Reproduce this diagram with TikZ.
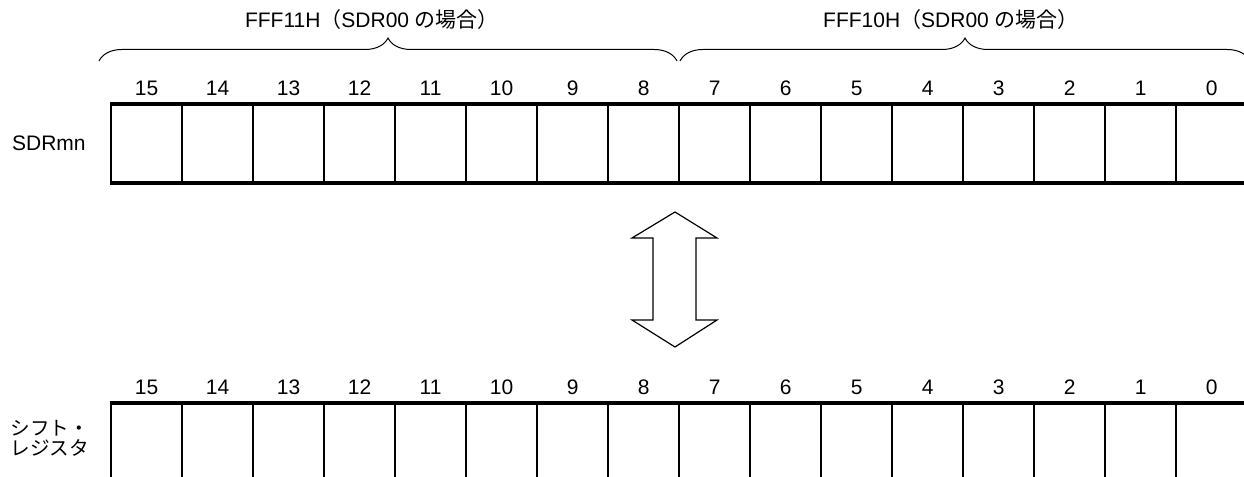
\documentclass[tikz,border=0pt]{standalone}
\usepackage{fontspec}
\setmainfont{Liberation Sans}
\newfontfamily\jpfont{Noto Sans CJK JP}
\usetikzlibrary{
  decorations.pathreplacing,
  positioning
}
\tikzset{
  bitcell/.style={draw, line width=1.1pt, inner sep=0pt, anchor=north west,
    minimum width=35.5pt, minimum height=38.5pt},
  lowcell/.style={bitcell, minimum height=41pt},
  regline/.style={line width=1.6pt},
  bitnum/.style={inner sep=0pt, font=\fontsize{10.5}{12}\selectfont},
  rowlabel/.style={inner sep=0pt, font=\fontsize{10.5}{12}\selectfont},
  addrlabel/.style={inner sep=0pt, font=\fontsize{10.5}{12}\selectfont},
  regbrace/.style={line width=0.5pt, decorate,
    decoration={brace, amplitude=11.5pt}}
}

\begin{document}
\begin{tikzpicture}[x=0.5pt, y=0.5pt]
  \useasboundingbox (0,0) rectangle (1244,477);

  %% --- SDRmn register (upper) ---
  \foreach \k in {0,...,15} {
    \pgfmathtruncatemacro\b{15-\k}
    \node[bitcell] (t\b) at ({110+71*\k}, 373) {};
    \node[bitnum, above=4pt of t\b] (tn\b) {\b};
  }
  \draw[regline] (t15.north west) -- (t0.north east);
  \draw[regline] (t15.south west) -- (t0.south east);
  \node[rowlabel, left=12pt of t15] (sdr) {SDRmn};

  %% --- Address braces above the upper register ---
  \coordinate (hiL) at (99, 416);
  \coordinate (hiR) at (677, 416);
  \coordinate (loL) at (680, 416);
  \coordinate (loR) at (1250, 416);
  \draw[regbrace] (hiL) -- (hiR);
  \draw[regbrace] (loL) -- (loR);
  \node[addrlabel] (hiaddr) at (372, 457)
    {FFF11H{\jpfont （}SDR00 {\jpfont の場合）}};
  \node[addrlabel] (loaddr) at (951, 457)
    {FFF10H{\jpfont （}SDR00 {\jpfont の場合）}};

  %% --- Transfer arrow (both ways) ---
  \draw[line width=0.6pt, line join=miter]
    (675, 265) -- (717, 239) -- (696, 239) -- (696, 157) -- (717, 157)
    -- (675, 130) -- (632, 157) -- (653, 157) -- (653, 239) -- (632, 239)
    -- cycle;

  %% --- Shift register (lower) ---
  \foreach \k in {0,...,15} {
    \pgfmathtruncatemacro\b{15-\k}
    \node[lowcell] (s\b) at ({110+71*\k}, 74) {};
    \node[bitnum, above=4pt of s\b] (sn\b) {\b};
  }
  \draw[regline] (s15.north west) -- (s0.north east);
  \node[rowlabel, anchor=west, align=left,
    font=\jpfont\fontsize{9.8}{10}\selectfont] (shift) at (10, 39)
    {シフト・\\レジスタ};
\end{tikzpicture}
\end{document}
